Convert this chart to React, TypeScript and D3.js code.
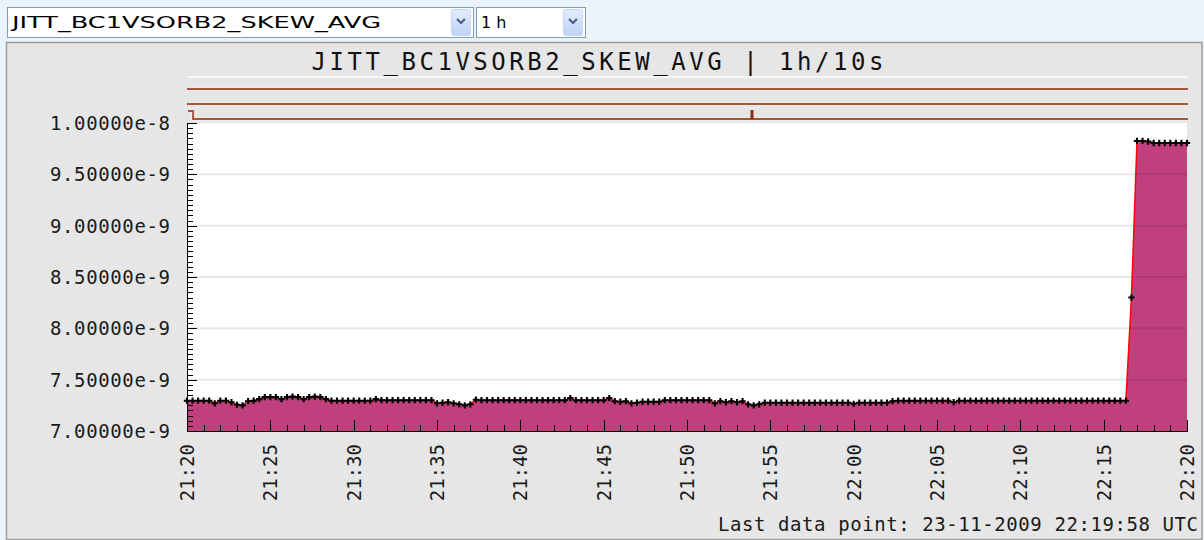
import React, { useRef, useEffect } from 'react';
import * as d3 from 'd3';

const W = 1204;
const H = 540;

const seriesName = 'JITT_BC1VSORB2_SKEW_AVG';
const rangeName = '1 h';
const titleText = 'JITT_BC1VSORB2_SKEW_AVG | 1h/10s';
const footerText = 'Last data point: 23-11-2009 22:19:58 UTC';

const startTime = new Date(Date.UTC(2009, 10, 23, 21, 20, 0));
const endTime = new Date(Date.UTC(2009, 10, 23, 22, 20, 0));
const stepSeconds = 20; // one marker every 20 s

// skew average, in units of 1e-9
const skewValues = [
  7.295, 7.295, 7.295, 7.295, 7.295, 7.27, 7.295, 7.295, 7.28, 7.255,
  7.25, 7.29, 7.295, 7.31, 7.33, 7.33, 7.33, 7.31, 7.33, 7.335,
  7.33, 7.31, 7.33, 7.335, 7.33, 7.31, 7.295, 7.295, 7.295, 7.295,
  7.295, 7.295, 7.295, 7.295, 7.31, 7.3, 7.3, 7.3, 7.3, 7.3,
  7.3, 7.3, 7.3, 7.3, 7.3, 7.27, 7.275, 7.28, 7.27, 7.26,
  7.25, 7.26, 7.305, 7.3, 7.3, 7.3, 7.3, 7.3, 7.3, 7.3,
  7.3, 7.3, 7.3, 7.3, 7.3, 7.3, 7.3, 7.3, 7.3, 7.32,
  7.3, 7.3, 7.3, 7.3, 7.3, 7.3, 7.32, 7.29, 7.285, 7.29,
  7.27, 7.275, 7.285, 7.285, 7.285, 7.285, 7.3, 7.3, 7.3, 7.3,
  7.3, 7.3, 7.3, 7.3, 7.3, 7.27, 7.29, 7.28, 7.29, 7.28,
  7.29, 7.26, 7.25, 7.26, 7.275, 7.275, 7.275, 7.275, 7.275, 7.275,
  7.275, 7.275, 7.275, 7.275, 7.275, 7.275, 7.275, 7.275, 7.275, 7.275,
  7.265, 7.275, 7.275, 7.275, 7.275, 7.275, 7.275, 7.29, 7.295, 7.295,
  7.295, 7.295, 7.295, 7.295, 7.295, 7.295, 7.295, 7.295, 7.28, 7.295,
  7.295, 7.295, 7.295, 7.295, 7.295, 7.295, 7.295, 7.295, 7.295, 7.295,
  7.295, 7.295, 7.295, 7.295, 7.295, 7.295, 7.295, 7.295, 7.295, 7.295,
  7.295, 7.295, 7.295, 7.295, 7.295, 7.295, 7.295, 7.295, 7.295, 7.295,
  8.30, 9.825, 9.825, 9.82, 9.805, 9.805, 9.805, 9.805, 9.805, 9.805,
  9.805,
];

const yDomain = [7.0e-9, 1.0e-8];
const yMajorTicks = [7.0e-9, 7.5e-9, 8.0e-9, 8.5e-9, 9.0e-9, 9.5e-9, 1.0e-8];

// status strips above the plot (3 lanes) and their events
const statusLanes = ['lane1', 'lane2', 'lane3'];
const statusEvents = [
  { lane: 2, time: '21:20:22', kind: 'step' },
  { lane: 2, time: '21:53:54', kind: 'spike' },
];

const App = () => {
  const ref = useRef(null);

  useEffect(() => {
    const svg = d3.select(ref.current);
    svg.selectAll('*').remove();

    const left = 187, right = 1187, top = 123, bottom = 431;
    const mono = 'DejaVu Sans Mono';

    const x = d3.scaleUtc().domain([startTime, endTime]).range([left, right]);
    const y = d3.scaleLinear().domain(yDomain).range([bottom, top]);

    const data = skewValues.map((v, i) => ({
      t: new Date(startTime.getTime() + i * stepSeconds * 1000),
      v: v * 1e-9,
    }));

    // page background + panel
    svg.append('rect').attr('width', W).attr('height', H).attr('fill', '#ebf3fb');
    svg.append('rect')
      .attr('x', 6.5).attr('y', 42.5).attr('width', 1195.5).attr('height', 497)
      .attr('fill', '#e6e6e6').attr('stroke', '#9c9c9c').attr('stroke-width', 1.5);

    // select boxes
    const defs = svg.append('defs');
    const grad = defs.append('linearGradient').attr('id', 'btn').attr('x1', 0).attr('y1', 0).attr('x2', 0).attr('y2', 1);
    grad.append('stop').attr('offset', '0%').attr('stop-color', '#e3ecfd');
    grad.append('stop').attr('offset', '100%').attr('stop-color', '#c1d3f8');

    const selects = [
      { x: 7, w: 466, label: seriesName, tl: 369 },
      { x: 476, w: 109, label: rangeName, tl: 0 },
    ];
    selects.forEach(s => {
      const g = svg.append('g');
      g.append('rect').attr('x', s.x + 0.5).attr('y', 7.5).attr('width', s.w).attr('height', 30)
        .attr('fill', '#fff').attr('stroke', '#7f9db9');
      g.append('rect').attr('x', s.x + s.w - 21.5).attr('y', 9.5).attr('width', 19).attr('height', 26)
        .attr('rx', 2).attr('fill', 'url(#btn)').attr('stroke', '#c6d6f6');
      const cx = s.x + s.w - 12, cy = 21;
      g.append('path').attr('d', `M${cx - 4},${cy - 2} L${cx},${cy + 2} L${cx + 4},${cy - 2}`)
        .attr('fill', 'none').attr('stroke', '#4d6185').attr('stroke-width', 2.2);
      const t = g.append('text').attr('x', s.x + 5).attr('y', 28)
        .attr('font-family', 'DejaVu Sans').attr('font-size', 16).attr('fill', '#000')
        .text(s.label);
      if (s.tl) t.attr('textLength', s.tl).attr('lengthAdjust', 'spacingAndGlyphs');
    });

    // title
    svg.append('text').attr('x', 597.5).attr('y', 70).attr('text-anchor', 'middle')
      .attr('font-family', mono).attr('font-size', 24).attr('fill', '#111')
      .attr('textLength', 572).attr('lengthAdjust', 'spacing')
      .text(titleText);

    // status strips
    svg.append('line').attr('x1', left).attr('x2', right + 1).attr('y1', 77).attr('y2', 77)
      .attr('stroke', '#f6f6f6').attr('stroke-width', 2);
    const laneY = d3.scalePoint().domain(statusLanes).range([89, 119]);
    const parseT = (s: string) => {
      const [hh, mm, ss] = s.split(':').map(Number);
      return new Date(Date.UTC(2009, 10, 23, hh, mm, ss));
    };
    statusLanes.forEach((lane, li) => {
      const ly = laneY(lane)!;
      const step = statusEvents.find(e => e.lane === li && e.kind === 'step');
      let d = `M${left},${ly} H${right + 1}`;
      if (step) {
        const sx = x(parseT(step.time));
        d = `M${left + 1},${ly - 8} H${sx} V${ly} H${right + 1}`;
      }
      svg.append('path').attr('d', d).attr('fill', 'none')
        .attr('stroke', '#f1ebe8').attr('stroke-width', 4);
      svg.append('path').attr('d', d).attr('fill', 'none')
        .attr('stroke', '#a5553a').attr('stroke-width', 2);
      statusEvents.filter(e => e.lane === li && e.kind === 'spike').forEach(e => {
        svg.append('rect').attr('x', x(parseT(e.time)) - 1.5).attr('y', ly - 9)
          .attr('width', 3).attr('height', 9).attr('fill', '#8e2e10');
      });
    });

    // plot area
    svg.append('rect').attr('x', left).attr('y', top).attr('width', right - left).attr('height', bottom - top)
      .attr('fill', '#fff');

    const area = d3.area<any>().x(d => x(d.t)).y0(bottom).y1(d => y(d.v));
    svg.append('path').datum(data).attr('d', area).attr('fill', '#c0407e');

    // grid
    svg.selectAll('.grid').data(yMajorTicks.slice(1, -1)).enter().append('line')
      .attr('x1', left).attr('x2', right).attr('y1', d => y(d)).attr('y2', d => y(d))
      .attr('stroke', 'rgba(0,0,0,0.09)').attr('stroke-width', 2);

    const line = d3.line<any>().x(d => x(d.t)).y(d => y(d.v));
    svg.append('path').datum(data).attr('d', line).attr('fill', 'none')
      .attr('stroke', '#ff0000').attr('stroke-width', 1.5);

    const cross = d3.symbol().type(d3.symbolCross).size(22);
    svg.selectAll('.pt').data(data).enter().append('path')
      .attr('transform', d => `translate(${x(d.t)},${y(d.v)})`)
      .attr('d', cross).attr('fill', '#000');

    // y axis
    const axis = svg.append('g').attr('stroke', '#000').attr('stroke-width', 1);
    axis.append('line').attr('x1', left + 0.5).attr('x2', left + 0.5).attr('y1', top).attr('y2', bottom + 1);
    y.ticks(60).forEach(v => {
      const major = yMajorTicks.some(m => Math.abs(m - v) < 1e-13);
      const yy = Math.round(y(v)) + 0.5;
      axis.append('line').attr('x1', left).attr('x2', left + (major ? 10 : 6)).attr('y1', yy).attr('y2', yy);
    });
    svg.selectAll('.ylab').data(yMajorTicks).enter().append('text')
      .attr('x', 170).attr('y', d => y(d)).attr('dy', '0.36em').attr('text-anchor', 'end')
      .attr('font-family', mono).attr('font-size', 19).attr('fill', '#1a1a1a')
      .attr('textLength', 120).attr('lengthAdjust', 'spacing')
      .text(d => d3.format('.5e')(d));

    // x axis
    axis.append('line').attr('x1', left).attr('x2', right + 1).attr('y1', bottom + 0.5).attr('y2', bottom + 0.5);
    x.ticks(d3.utcMinute.every(1)!).forEach(t => {
      const major = t.getUTCMinutes() % 5 === 0;
      const xx = Math.round(x(t)) + 0.5;
      axis.append('line').attr('x1', xx).attr('x2', xx).attr('y1', bottom).attr('y2', bottom - (major ? 11 : 6));
    });
    const fmt = d3.utcFormat('%H:%M');
    svg.selectAll('.xlab').data(x.ticks(d3.utcMinute.every(5)!)).enter().append('text')
      .attr('transform', d => `translate(${x(d)},${444}) rotate(-90)`)
      .attr('dy', '0.36em').attr('text-anchor', 'end')
      .attr('font-family', mono).attr('font-size', 19).attr('fill', '#1a1a1a')
      .text(d => fmt(d));

    // footer
    svg.append('text').attr('x', 1198).attr('y', 531).attr('text-anchor', 'end')
      .attr('font-family', mono).attr('font-size', 19).attr('fill', '#1a1a1a')
      .attr('textLength', 480).attr('lengthAdjust', 'spacing')
      .text(footerText);
  }, []);

  return <svg ref={ref} width={W} height={H} style={{ position: 'absolute', left: 0, top: 0 }}></svg>;
};

export default App;
